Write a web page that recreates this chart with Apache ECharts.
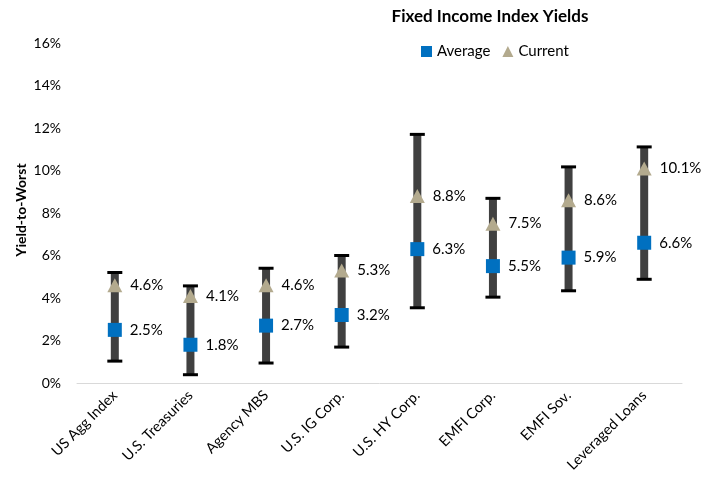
<!DOCTYPE html>
<html><head><meta charset="utf-8">
<script src="https://cdn.jsdelivr.net/npm/echarts@6/dist/echarts.min.js"></script>
<style>html,body{margin:0;padding:0;background:#fff}#c{width:718px;height:484px}</style>
</head><body><div id="c"></div>
<script>
var categories = ['US Agg Index','U.S. Treasuries','Agency MBS','U.S. IG Corp.','U.S. HY Corp.','EMFI Corp.','EMFI Sov.','Leveraged Loans'];
var lowValues = [1.03, 0.39, 0.94, 1.69, 3.54, 4.04, 4.34, 4.88];
var highValues = [5.2, 4.57, 5.4, 6.0, 11.7, 8.69, 10.17, 11.11];
var averageValues = [2.5, 1.8, 2.7, 3.2, 6.3, 5.5, 5.9, 6.6];
var currentValues = [4.6, 4.1, 4.6, 5.3, 8.8, 7.5, 8.6, 10.1];
var yTicks = [0, 2, 4, 6, 8, 10, 12, 14, 16];
var yAxisTitle = 'Yield-to-Worst';

var FONT = 'Lato';
var rangeData = categories.map(function(c, i){ return [i, lowValues[i], highValues[i]]; });

var chart = echarts.init(document.getElementById('c'));
chart.setOption({
  animation: false,
  textStyle: { fontFamily: FONT },
  title: {
    text: 'Fixed Income Index Yields', left: 485, top: 3, textAlign: 'center',
    textStyle: { fontFamily: FONT, fontSize: 17, fontWeight: 'bold', color: '#000' }
  },
  graphic: [{
    type: 'text', x: 21, y: 210, rotation: Math.PI / 2,
    style: { text: yAxisTitle, fontFamily: FONT, fontSize: 14, fontWeight: 'bold', fill: '#000',
      align: 'center', verticalAlign: 'middle' }
  }],
  legend: {
    data: [{ name: 'Average', icon: 'rect' }, { name: 'Current', icon: 'triangle' }],
    left: 416, top: 39, itemWidth: 11, itemHeight: 11, itemGap: 12,
    textStyle: { fontFamily: FONT, fontSize: 15, color: '#000' }
  },
  grid: { left: 77, right: 36, top: 43, bottom: 101 },
  xAxis: {
    type: 'category', data: categories,
    axisLine: { lineStyle: { color: '#d9d9d9', width: 1 } },
    axisTick: { show: false },
    axisLabel: { interval: 0, rotate: 45, fontFamily: FONT, fontSize: 14.5, color: '#000', margin: 10 }
  },
  yAxis: {
    type: 'value', min: yTicks[0], max: yTicks[yTicks.length - 1], interval: 2,
    axisLine: { show: false }, axisTick: { show: false }, splitLine: { show: false },
    axisLabel: { fontFamily: FONT, fontSize: 14, color: '#000', margin: 16, formatter: function(v){ return v + '%'; } }
  },
  series: [
    {
      name: 'Range', type: 'custom', data: rangeData, z: 1,
      encode: { x: 0, y: [1, 2] },
      renderItem: function(params, api){
        var x = api.value(0);
        var lo = api.coord([x, api.value(1)]);
        var hi = api.coord([x, api.value(2)]);
        var bw = 8, cw = 15;
        return { type: 'group', children: [
          { type: 'rect', shape: { x: lo[0] - bw/2, y: hi[1], width: bw, height: lo[1] - hi[1] }, style: { fill: '#404040' } },
          { type: 'line', shape: { x1: hi[0] - cw/2, y1: hi[1], x2: hi[0] + cw/2, y2: hi[1] }, style: { stroke: '#000', lineWidth: 3 } },
          { type: 'line', shape: { x1: lo[0] - cw/2, y1: lo[1], x2: lo[0] + cw/2, y2: lo[1] }, style: { stroke: '#000', lineWidth: 3 } }
        ]};
      }
    },
    {
      name: 'Average', type: 'scatter', data: averageValues, z: 3,
      symbol: 'rect', symbolSize: 14,
      itemStyle: { color: '#0070C0', opacity: 1 },
      label: { show: true, position: 'right', distance: 8, fontFamily: FONT, fontSize: 15, color: '#000',
        formatter: function(p){ return p.value.toFixed(1) + '%'; } }
    },
    {
      name: 'Current', type: 'scatter', data: currentValues, z: 3,
      symbol: 'triangle', symbolSize: [15, 14],
      itemStyle: { color: '#B3AA8E', opacity: 1 },
      label: { show: true, position: 'right', distance: 8, fontFamily: FONT, fontSize: 15, color: '#000',
        formatter: function(p){ return p.value.toFixed(1) + '%'; } }
    }
  ]
});
</script></body></html>
